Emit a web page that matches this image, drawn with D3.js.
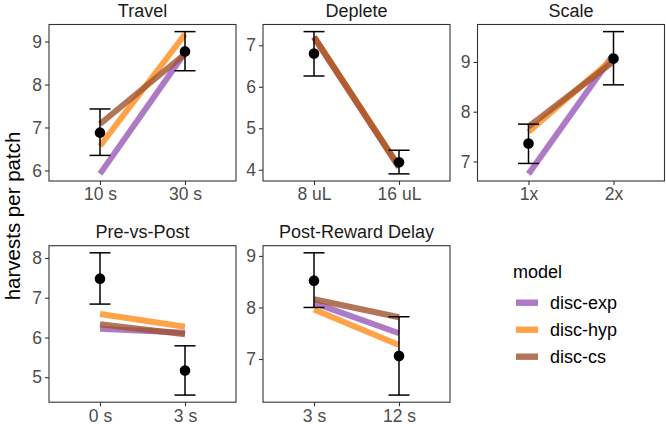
<!DOCTYPE html>
<html>
<head>
<meta charset="utf-8">
<script src="https://cdn.jsdelivr.net/npm/d3@7"></script>
<style>
  html, body { margin: 0; padding: 0; background: #fff; }
  text { font-family: "Liberation Sans", Arial, sans-serif; }
</style>
</head>
<body>
<svg id="chart" width="666" height="429"></svg>
<script>
// ---------- data ----------
const panels = ["Travel", "Deplete", "Scale", "Pre-vs-Post", "Post-Reward Delay"];
const levels = [["10 s", "30 s"], ["8 uL", "16 uL"], ["1x", "2x"], ["0 s", "3 s"], ["3 s", "12 s"]];
const yTicks = [[6, 7, 8, 9], [4, 5, 6, 7], [7, 8, 9], [5, 6, 7, 8], [7, 8, 9]];

const obsMean = [[6.88, 8.77], [6.80, 4.18], [7.36, 9.07], [7.48, 5.17], [8.52, 7.06]];
const obsLo   = [[6.35, 8.32], [6.26, 3.90], [6.96, 8.54], [6.84, 4.55], [8.00, 6.30]];
const obsHi   = [[7.43, 9.23], [7.33, 4.47], [7.75, 9.61], [8.13, 5.79], [9.06, 7.82]];

const models = ["disc-exp", "disc-hyp", "disc-cs"];
const discExp = [[5.92, 8.74], [7.19, 4.06], [6.75, 9.15], [6.22, 6.12], [8.09, 7.50]];
const discHyp = [[6.57, 9.17], [7.21, 4.08], [7.59, 9.08], [6.59, 6.27], [7.96, 7.27]];
const discCs  = [[7.08, 8.71], [7.20, 4.07], [7.70, 9.01], [6.33, 6.08], [8.16, 7.81]];
const modelValues = [discExp, discHyp, discCs];
const modelColors = ["#9B59B6", "#FF8C1A", "#A0522D"];

// ---------- layout ----------
const svg = d3.select("#chart");
const colX = [49, 263, 477.5];
const rowY = [24.5, 245.7];
const pw = 187, ph = 156.5;

const color = d3.scaleOrdinal().domain(models).range(modelColors);

panels.forEach((name, i) => {
  const col = i % 3, row = Math.floor(i / 3);
  const x0 = colX[col], y0 = rowY[row];
  const g = svg.append("g").attr("transform", `translate(${x0},${y0})`);

  // discrete x scale with ggplot-like 0.6 expansion
  const xs = d3.scalePoint().domain(levels[i]).range([0, pw]).padding(0.6);

  const allVals = [].concat(obsLo[i], obsHi[i], ...modelValues.map(m => m[i]));
  const mn = d3.min(allVals), mx = d3.max(allVals);
  const ex = (mx - mn) * 0.05;
  const ys = d3.scaleLinear().domain([mn - ex, mx + ex]).range([ph, 0]);

  // model lines
  models.forEach((m, k) => {
    const vals = modelValues[k][i];
    g.append("line")
      .attr("x1", xs(levels[i][0])).attr("y1", ys(vals[0]))
      .attr("x2", xs(levels[i][1])).attr("y2", ys(vals[1]))
      .attr("stroke", color(m)).attr("stroke-opacity", 0.8)
      .attr("stroke-width", 6).attr("stroke-linecap", "butt");
  });

  // error bars and points
  levels[i].forEach((lv, j) => {
    const cx = xs(lv);
    const eg = g.append("g").attr("stroke", "#000").attr("stroke-width", 1.5);
    eg.append("line").attr("x1", cx).attr("x2", cx).attr("y1", ys(obsLo[i][j])).attr("y2", ys(obsHi[i][j]));
    eg.append("line").attr("x1", cx - 10.5).attr("x2", cx + 10.5).attr("y1", ys(obsLo[i][j])).attr("y2", ys(obsLo[i][j]));
    eg.append("line").attr("x1", cx - 10.5).attr("x2", cx + 10.5).attr("y1", ys(obsHi[i][j])).attr("y2", ys(obsHi[i][j]));
    g.append("circle").attr("cx", cx).attr("cy", ys(obsMean[i][j])).attr("r", 5.3).attr("fill", "#000");
  });

  // panel border
  g.append("rect").attr("x", 0).attr("y", 0).attr("width", pw).attr("height", ph)
    .attr("fill", "none").attr("stroke", "#333").attr("stroke-width", 1.1);

  // axes
  const yAxis = d3.axisLeft(ys).tickValues(yTicks[i]).tickSize(4).tickPadding(3).tickFormat(d3.format("d"));
  const ya = g.append("g").call(yAxis);
  const xAxis = d3.axisBottom(xs).tickSize(4).tickPadding(3);
  const xa = g.append("g").attr("transform", `translate(0,${ph})`).call(xAxis);
  [ya, xa].forEach(a => {
    a.select(".domain").remove();
    a.selectAll(".tick line").attr("stroke", "#333").attr("stroke-width", 1.1);
    a.selectAll(".tick text").attr("fill", "#4D4D4D").style("font-size", "17.5px")
      .style("font-family", '"Liberation Sans", Arial, sans-serif');
  });

  // strip title
  g.append("text").attr("x", pw / 2).attr("y", -7.5).attr("text-anchor", "middle")
    .attr("fill", "#1A1A1A").style("font-size", "18px").text(name);
});

// y axis title
svg.append("text")
  .attr("transform", "translate(19.5,216) rotate(-90)")
  .attr("text-anchor", "middle").attr("fill", "#000")
  .style("font-size", "20.5px").text("harvests per patch");

// legend
const lg = svg.append("g").attr("transform", "translate(513,0)");
lg.append("text").attr("x", 0).attr("y", 278).style("font-size", "18px").attr("fill", "#000").text("model");
models.forEach((m, k) => {
  const cy = 302.7 + k * 27;
  lg.append("rect").attr("x", 3).attr("y", cy - 3.2).attr("width", 22).attr("height", 6.4)
    .attr("fill", color(m)).attr("fill-opacity", 0.8);
  lg.append("text").attr("x", 37).attr("y", cy + 6).style("font-size", "18px").attr("fill", "#000").text(m);
});
</script>
</body>
</html>
